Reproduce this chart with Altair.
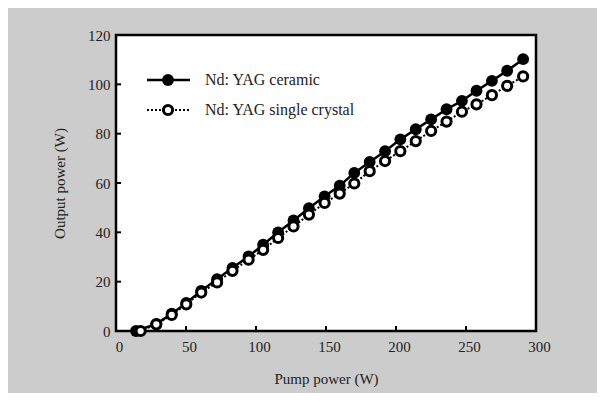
import altair as alt
import pandas as pd

pump_ceramic = [14.3, 28.8, 39.8, 50.2, 60.9, 72.2, 83.2, 94.7, 105.1, 115.8, 126.8, 137.8, 149.0,
                159.8, 170.2, 181.2, 192.2, 203.1, 214.1, 225.1, 236.1, 247.1, 257.5, 268.5, 279.4, 290.8]
out_ceramic = [0.0, 2.9, 7.0, 11.4, 16.3, 21.0, 25.6, 30.2, 35.0, 40.0, 44.8, 49.8, 54.6,
               58.9, 64.1, 68.5, 72.9, 77.7, 81.8, 85.8, 89.9, 93.3, 97.4, 101.4, 105.5, 110.2]
pump_crystal = [17.6, 28.8, 39.8, 50.2, 60.9, 72.2, 83.2, 94.7, 105.1, 115.8, 126.8, 137.8, 149.0,
                159.8, 170.2, 181.2, 192.2, 203.1, 214.1, 225.1, 236.1, 247.1, 257.5, 268.5, 279.4, 290.8]
out_crystal = [0.0, 2.7, 6.5, 10.8, 15.6, 19.7, 24.4, 28.9, 32.9, 37.7, 42.4, 47.2, 51.9,
               55.7, 59.8, 64.8, 68.9, 72.9, 77.0, 81.1, 84.9, 88.9, 91.9, 95.6, 99.4, 103.2]

x_ticks = [0, 50, 100, 150, 200, 250, 300]
y_ticks = [0, 20, 40, 60, 80, 100, 120]
series_names = ["Nd: YAG ceramic", "Nd: YAG single crystal"]

W, H = 420, 296
FONT = "Liberation Serif"

ceramic = pd.DataFrame({"pump": pump_ceramic, "out": out_ceramic})
crystal = pd.DataFrame({"pump": pump_crystal, "out": out_crystal})

xs = alt.Scale(domain=[0, 300], nice=False)
ys = alt.Scale(domain=[0, 120], nice=False)

xaxis = alt.Axis(values=x_ticks, title="Pump power (W)", ticks=False, grid=False, domain=False,
                 labelPadding=8, labelOffset=3, titlePadding=17, labelFlush=False)
yaxis = alt.Axis(values=y_ticks, title="Output power (W)", ticks=False, grid=False, domain=False,
                 labelPadding=6, titlePadding=20, labelFlush=False)

X = alt.X("pump:Q", scale=xs, axis=xaxis)
Y = alt.Y("out:Q", scale=ys, axis=yaxis)

base_c = alt.Chart(ceramic)
base_s = alt.Chart(crystal)

line_c = base_c.mark_line(color="black", strokeWidth=2.5).encode(x=X, y=Y)
pts_c = base_c.mark_point(shape="circle", filled=True, color="black", size=140, opacity=1).encode(x=X, y=Y)
line_s = base_s.mark_line(color="black", strokeWidth=2, strokeDash=[2, 2]).encode(x=X, y=Y)
pts_s = base_s.mark_point(shape="circle", fill="white", stroke="black", strokeWidth=3,
                          size=85, opacity=1, fillOpacity=1).encode(x=X, y=Y)

# inward ticks
yt = pd.DataFrame({"out": y_ticks[1:-1]})
xt = pd.DataFrame({"pump": x_ticks[1:-1]})
yticks = alt.Chart(yt).mark_rule(color="black", strokeWidth=2).encode(
    y=Y, x=alt.value(0), x2=alt.value(5))
xticks = alt.Chart(xt).mark_rule(color="black", strokeWidth=2).encode(
    x=X, y=alt.value(H), y2=alt.value(H - 5))

# legend
leg0 = pd.DataFrame({"name": [series_names[0]]})
leg1 = pd.DataFrame({"name": [series_names[1]]})
leg_line_c = alt.Chart(leg0).mark_rule(color="black", strokeWidth=2.5).encode(
    x=alt.value(31), x2=alt.value(74), y=alt.value(45))
leg_pt_c = alt.Chart(leg0).mark_point(shape="circle", filled=True, color="black",
                                      size=140, opacity=1).encode(x=alt.value(52), y=alt.value(45))
leg_line_s = alt.Chart(leg1).mark_rule(color="black", strokeWidth=2, strokeDash=[2, 2]).encode(
    x=alt.value(31), x2=alt.value(74), y=alt.value(75))
leg_pt_s = alt.Chart(leg1).mark_point(shape="circle", fill="white", stroke="black",
                                      strokeWidth=3, size=85, opacity=1, fillOpacity=1).encode(
    x=alt.value(52), y=alt.value(75))
txt_style = dict(align="left", baseline="middle", font=FONT, fontSize=16, color="#222222")
leg_txt0 = alt.Chart(leg0).mark_text(**txt_style).encode(x=alt.value(89), y=alt.value(45), text="name:N")
leg_txt1 = alt.Chart(leg1).mark_text(**txt_style).encode(x=alt.value(89), y=alt.value(75), text="name:N")

chart = alt.layer(
    line_c, pts_c, line_s, pts_s, yticks, xticks,
    leg_line_c, leg_pt_c, leg_line_s, leg_pt_s, leg_txt0, leg_txt1
).properties(
    width=W, height=H,
    autosize=alt.AutoSizeParams(type="none"),
    padding={"left": 108, "top": 27, "right": 61, "bottom": 62},
    background="#cccccc",
).configure_view(
    fill="white", stroke="black", strokeWidth=2.5
).configure_axis(
    labelFont=FONT, titleFont=FONT, labelFontSize=15, titleFontSize=15,
    labelColor="#222222", titleColor="#222222", titleFontWeight="normal"
)

chart.save("out.html", embed_options={"renderer": "svg", "actions": False})
